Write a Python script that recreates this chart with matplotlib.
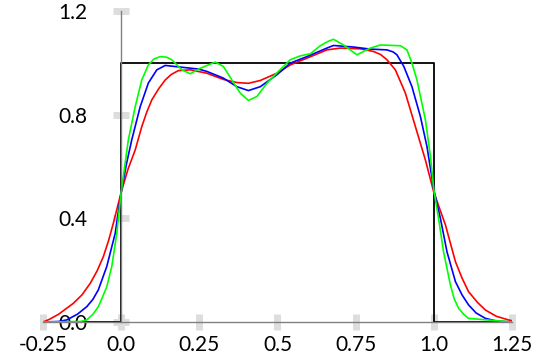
import matplotlib
matplotlib.use("Agg")
from matplotlib import pyplot as plt

plt.rcParams['font.family'] = ['Lato', 'DejaVu Sans']

# step function
step_x = [-0.25, 0.0, 0.0, 1.0, 1.0, 1.25]
step_y = [0.0, 0.0, 1.0, 1.0, 0.0, 0.0]

# red curve (smoothest)
red_x = [-0.25, -0.23, -0.2, -0.153, -0.125, -0.099, -0.077, -0.057, -0.04, -0.025, 0.0,
         0.022, 0.045, 0.066, 0.082, 0.098, 0.12, 0.141, 0.16, 0.183, 0.221, 0.274,
         0.327, 0.370, 0.407, 0.445, 0.498, 0.541, 0.594, 0.658, 0.701, 0.765, 0.807,
         0.830, 0.850, 0.877, 0.909, 0.941, 0.973, 1.0, 1.037, 1.069, 1.09, 1.111,
         1.14, 1.165, 1.2, 1.239, 1.25]
red_y = [0.0, 0.01, 0.03, 0.072, 0.105, 0.149, 0.197, 0.252, 0.315, 0.381, 0.5,
         0.59, 0.664, 0.754, 0.81, 0.857, 0.90, 0.934, 0.955, 0.970, 0.973, 0.960,
         0.936, 0.924, 0.921, 0.932, 0.960, 0.992, 1.018, 1.050, 1.057, 1.054, 1.044,
         1.032, 1.012, 0.973, 0.883, 0.754, 0.625, 0.5, 0.375, 0.233, 0.17, 0.117,
         0.075, 0.046, 0.022, 0.008, 0.005]

# blue curve
blue_x = [-0.25, -0.2, -0.174, -0.14, -0.11, -0.09, -0.073, -0.046, -0.019, 0.0, 0.017,
          0.034, 0.061, 0.087, 0.114, 0.141, 0.194, 0.247, 0.274, 0.327, 0.370, 0.407,
          0.445, 0.498, 0.541, 0.594, 0.658, 0.679, 0.743, 0.797, 0.850, 0.87, 0.882,
          0.904, 0.930, 0.957, 0.978, 1.0, 1.021, 1.042, 1.069, 1.09, 1.111, 1.135,
          1.165, 1.2, 1.25]
blue_y = [0.0, 0.002, 0.008, 0.03, 0.059, 0.088, 0.124, 0.214, 0.342, 0.5, 0.61,
          0.703, 0.831, 0.922, 0.973, 0.990, 0.983, 0.976, 0.967, 0.941, 0.908, 0.893,
          0.908, 0.954, 0.999, 1.024, 1.057, 1.067, 1.061, 1.053, 1.050, 1.042, 1.031,
          0.986, 0.908, 0.793, 0.677, 0.51, 0.400, 0.271, 0.156, 0.105, 0.066, 0.035,
          0.014, 0.004, 0.0]

# green curve (least smooth)
green_x = [-0.25, -0.13, -0.11, -0.09, -0.073, -0.06, -0.046, -0.03, -0.014, 0.0, 0.023,
           0.045, 0.066, 0.087, 0.105, 0.125, 0.145, 0.162, 0.194, 0.221, 0.253, 0.301,
           0.327, 0.354, 0.381, 0.407, 0.434, 0.466, 0.503, 0.541, 0.573, 0.605, 0.637,
           0.66, 0.679, 0.711, 0.754, 0.797, 0.829, 0.893, 0.914, 0.930, 0.946, 0.973,
           0.989, 1.0, 1.015, 1.031, 1.053, 1.065, 1.079, 1.095, 1.111, 1.25]
green_y = [0.0, 0.002, 0.008, 0.03, 0.059, 0.095, 0.136, 0.214, 0.342, 0.5, 0.703,
           0.831, 0.934, 0.992, 1.015, 1.024, 1.022, 1.012, 0.973, 0.958, 0.979, 1.003,
           0.986, 0.934, 0.883, 0.855, 0.870, 0.921, 0.967, 1.012, 1.027, 1.035, 1.066,
           1.082, 1.091, 1.069, 1.031, 1.057, 1.069, 1.066, 1.050, 0.999, 0.934, 0.780,
           0.64, 0.51, 0.400, 0.271, 0.143, 0.09, 0.053, 0.03, 0.014, 0.0]

xticks = [-0.25, 0.0, 0.25, 0.5, 0.75, 1.0, 1.25]
xlabels = ["-0.25", "0.0", "0.25", "0.5", "0.75", "1.0", "1.25"]
yticks = [0.0, 0.4, 0.8, 1.2]
ylabels = ["0.0", "0.4", "0.8", "1.2"]

fig = plt.figure(figsize=(5.58, 3.61), dpi=100)
ax = fig.add_axes([0.077, 0.108, 0.8406, 0.8615])

ax.plot(step_x, step_y, color="black", lw=1.3)
ax.plot(red_x, red_y, color="red", lw=1.2)
ax.plot(blue_x, blue_y, color="blue", lw=1.2)
ax.plot(green_x, green_y, color="#00ff00", lw=1.2)

ax.set_xlim(-0.25, 1.25)
ax.set_ylim(0, 1.2)

ax.spines['top'].set_visible(False)
ax.spines['right'].set_visible(False)
ax.spines['left'].set_position(('data', 0))
for s in ['left', 'bottom']:
    ax.spines[s].set_color('#808080')
    ax.spines[s].set_linewidth(1.0)

ax.set_xticks(xticks, xlabels)
ax.set_yticks(yticks, ylabels)
ax.tick_params(axis='both', direction='inout', length=11.5, width=5, color='#dddddd',
               labelsize=15)
ax.tick_params(axis='y', pad=18.5)
ax.tick_params(axis='x', pad=3.5)

fig.savefig("out.png", dpi=100)
